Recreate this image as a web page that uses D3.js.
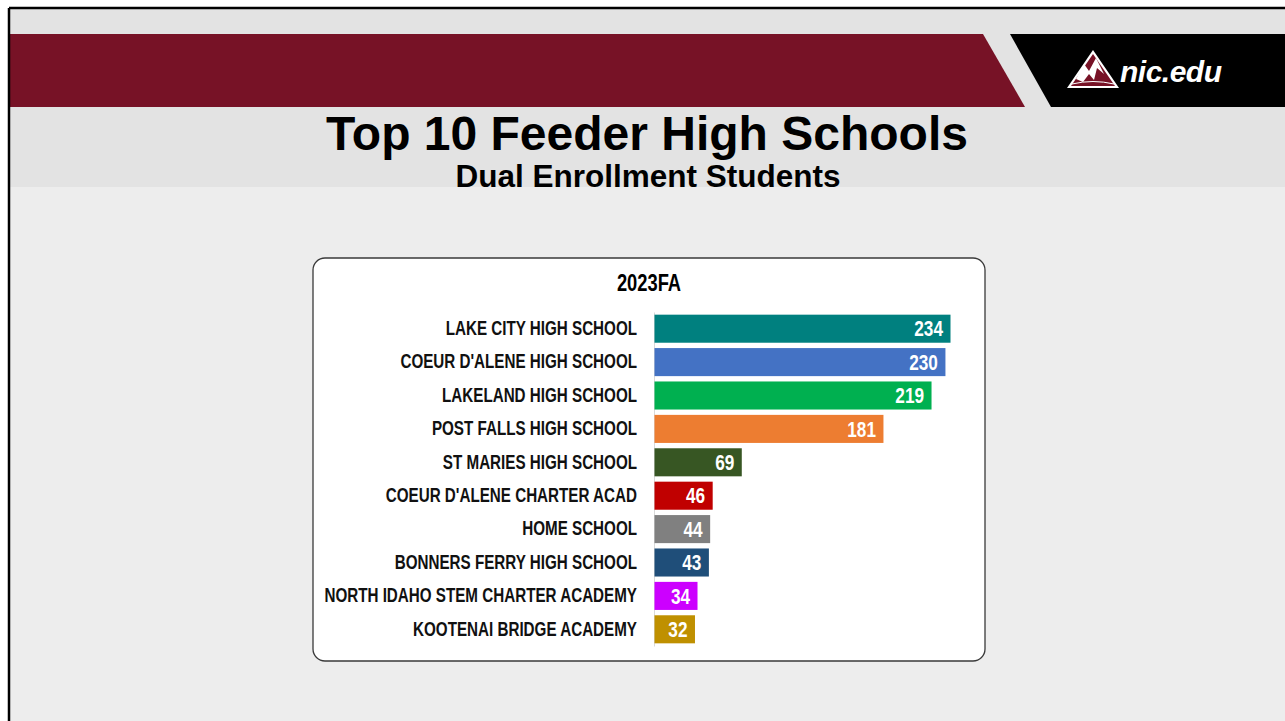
<!DOCTYPE html>
<html>
<head>
<meta charset="utf-8">
<script src="https://cdn.jsdelivr.net/npm/d3@7"></script>
<style>
  html, body { margin: 0; padding: 0; background: #ffffff; }
  svg { display: block; }
  .narrow { font-family: "Liberation Sans", Arial, sans-serif; font-weight: bold; }
</style>
</head>
<body>
<svg id="chart" width="1285" height="721"></svg>
<script>
// ---- data ----
const schools = [
  "LAKE CITY HIGH SCHOOL",
  "COEUR D'ALENE HIGH SCHOOL",
  "LAKELAND HIGH SCHOOL",
  "POST FALLS HIGH SCHOOL",
  "ST MARIES HIGH SCHOOL",
  "COEUR D'ALENE CHARTER ACAD",
  "HOME SCHOOL",
  "BONNERS FERRY HIGH SCHOOL",
  "NORTH IDAHO STEM CHARTER ACADEMY",
  "KOOTENAI BRIDGE ACADEMY"
];
const students = [234, 230, 219, 181, 69, 46, 44, 43, 34, 32];
const barColors = ["#00807f", "#4472c4", "#00b050", "#ed7d31", "#375623",
                   "#c00000", "#808080", "#1f4e79", "#cc00ff", "#bf9000"];
const term = "2023FA";
const titleText = "Top 10 Feeder High Schools";
const subtitleText = "Dual Enrollment Students";

const data = schools.map((s, i) => ({ school: s, value: students[i], color: barColors[i] }));

const K = 0.78; // horizontal condensation to mimic a narrow bold face
function narrow(sel, xPos, k = K) {
  return sel.attr("class", "narrow").attr("x", xPos / k).attr("transform", `scale(${k},1)`);
}

const svg = d3.select("#chart");

// ---- slide background ----
svg.append("rect").attr("x", 9).attr("y", 8).attr("width", 1280).attr("height", 720).attr("fill", "#ededed");
svg.append("rect").attr("x", 10).attr("y", 9).attr("width", 1280).attr("height", 178).attr("fill", "#e3e3e3");
svg.append("polygon").attr("points", "10,34 983,34 1025,107 10,107").attr("fill", "#771226");
svg.append("polygon").attr("points", "1010,34 1290,34 1290,107 1051,107").attr("fill", "#000000");
// border
svg.append("line").attr("x1", 9).attr("y1", 8).attr("x2", 1290).attr("y2", 8).attr("stroke", "#000").attr("stroke-width", 2.5);
svg.append("line").attr("x1", 9).attr("y1", 8).attr("x2", 9).attr("y2", 730).attr("stroke", "#000").attr("stroke-width", 2.5);

// logo
const logo = svg.append("g");
logo.append("polygon").attr("points", "1067,88 1093,50 1119,88").attr("fill", "#ffffff");
logo.append("polygon").attr("points", "1071,86 1093,54 1115,86").attr("fill", "#771226");
logo.append("polygon").attr("points", "1076,79 1084,64 1089,71 1096,58 1104,74 1097,68 1094,80 1089,74 1083,82").attr("fill", "#ffffff");
logo.append("path").attr("d", "M1072,84 Q1093,79 1114,84").attr("stroke", "#ffffff").attr("stroke-width", 1).attr("fill", "none");
logo.append("text").attr("x", 1120).attr("y", 82)
  .attr("font-family", "Liberation Sans, Arial, sans-serif").attr("font-weight", "bold").attr("font-style", "italic")
  .attr("font-size", 30).attr("fill", "#ffffff").attr("letter-spacing", -0.5).text("nic.edu");

// titles
svg.append("text").attr("x", 647).attr("y", 150).attr("text-anchor", "middle")
  .attr("font-family", "Liberation Sans, Arial, sans-serif").attr("font-weight", "bold")
  .attr("font-size", 48).attr("fill", "#000").text(titleText);
svg.append("text").attr("x", 648).attr("y", 187).attr("text-anchor", "middle")
  .attr("font-family", "Liberation Sans, Arial, sans-serif").attr("font-weight", "bold")
  .attr("font-size", 31.5).attr("fill", "#000").text(subtitleText);

// ---- chart panel ----
svg.append("rect").attr("x", 313).attr("y", 258).attr("width", 672).attr("height", 403)
  .attr("rx", 12).attr("ry", 12).attr("fill", "#ffffff").attr("stroke", "#3a3a3a").attr("stroke-width", 1.3);

narrow(svg.append("text"), 649).attr("y", 291).attr("text-anchor", "middle")
  .attr("font-size", 23.5).attr("fill", "#000").text(term);

const x = d3.scaleLinear().domain([0, d3.max(students)]).range([654, 950]);
const y = d3.scaleBand().domain(schools).range([312, 646]).paddingInner(0.16).paddingOuter(0.08);

const yAxis = svg.append("g").attr("transform", "translate(654,0)")
  .call(d3.axisLeft(y).tickSize(0).tickPadding(17));
yAxis.select(".domain").attr("stroke", "#d9d9d9").attr("stroke-width", 1);
yAxis.selectAll(".tick text").each(function () {
  narrow(d3.select(this), -17).attr("font-size", 19.5).attr("fill", "#111");
});

svg.append("g").selectAll("rect").data(data).join("rect")
  .attr("x", x(0) + 0.5)
  .attr("y", d => y(d.school))
  .attr("width", d => x(d.value) - x(0))
  .attr("height", y.bandwidth())
  .attr("fill", d => d.color);

const vl = svg.append("g").selectAll("text").data(data).join("text");
vl.each(function (d) { narrow(d3.select(this), x(d.value) - 7, 0.8); })
  .attr("y", d => y(d.school) + y.bandwidth() / 2)
  .attr("dy", "0.36em")
  .attr("text-anchor", "end")
  .attr("font-size", 21.5)
  .attr("fill", "#ffffff")
  .text(d => d.value);
</script>
</body>
</html>
